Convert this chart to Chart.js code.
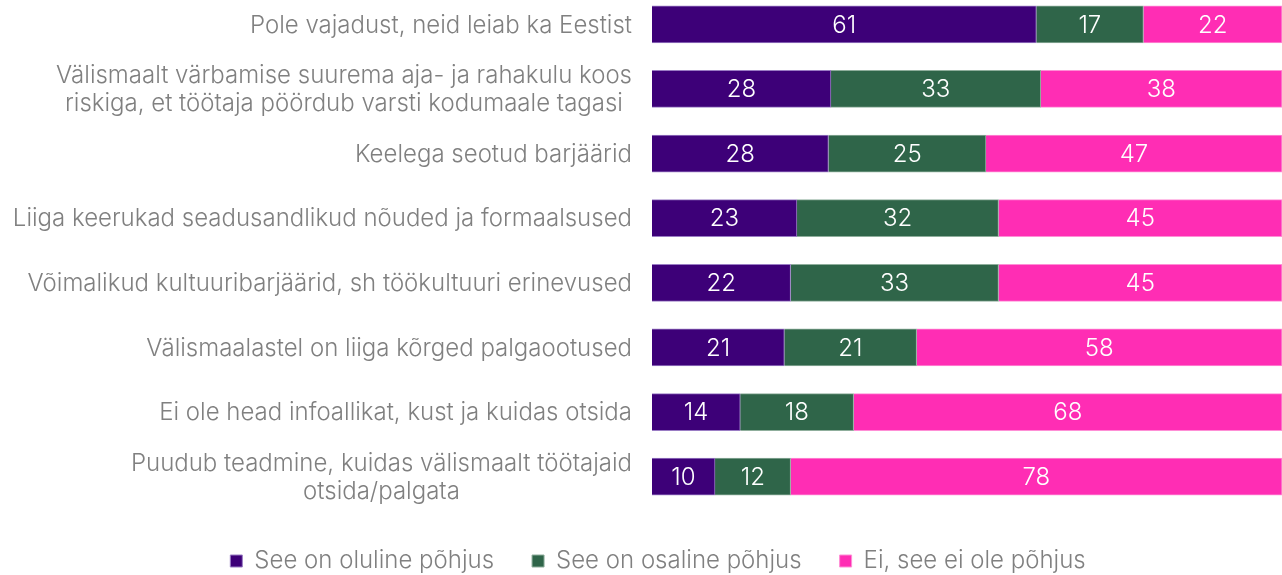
<!DOCTYPE html>
<html>
<head>
<meta charset="utf-8">
<script src="https://cdn.jsdelivr.net/npm/chart.js@4/dist/chart.umd.min.js"></script>
<style>
  html, body { margin: 0; padding: 0; background: #fff; overflow: hidden; }
  #wrap { position: absolute; left: 0; top: -8px; width: 1282px; height: 589px; }
</style>
</head>
<body>
<div id="wrap"><canvas id="chart"></canvas></div>
<script>
var categories = [
    'Pole vajadust, neid leiab ka Eestist',
    ['Välismaalt värbamise suurema aja- ja rahakulu koos', 'riskiga, et töötaja pöördub varsti kodumaale tagasi'],
    'Keelega seotud barjäärid',
    'Liiga keerukad seadusandlikud nõuded ja formaalsused',
    'Võimalikud kultuuribarjäärid, sh töökultuuri erinevused',
    'Välismaalastel on liiga kõrged palgaootused',
    'Ei ole head infoallikat, kust ja kuidas otsida',
    ['Puudub teadmine, kuidas välismaalt töötajaid', 'otsida/palgata']
];
var seriesNames = ['See on oluline põhjus', 'See on osaline põhjus', 'Ei, see ei ole põhjus'];
var important = [61, 28.4, 28, 23, 22, 21, 14, 10];
var partial = [17, 33.3, 25, 32, 33, 21, 18, 12];
var notReason = [22, 38.3, 47, 45, 45, 58, 68, 78];

var FONT = 'Inter';
var GREY = '#808080';

// numbers inside the bars
var barLabels = {
    id: 'barLabels',
    afterDatasetsDraw: function (chart) {
        var ctx = chart.ctx;
        ctx.save();
        ctx.fillStyle = '#ffffff';
        ctx.font = '300 24px ' + FONT;
        ctx.textAlign = 'center';
        ctx.textBaseline = 'middle';
        chart.data.datasets.forEach(function (ds, i) {
            chart.getDatasetMeta(i).data.forEach(function (bar, j) {
                var c = bar.getCenterPoint();
                ctx.fillText(Math.round(ds.data[j]).toString(), c.x, c.y + 1);
            });
        });
        ctx.restore();
    }
};

// category labels: block right aligned, lines centred inside the block
var catLabels = {
    id: 'catLabels',
    afterDraw: function (chart) {
        var ctx = chart.ctx;
        var y = chart.scales.y;
        var right = chart.chartArea.left - 20;
        var lh = 27.5;
        ctx.save();
        ctx.fillStyle = GREY;
        ctx.font = '300 24px ' + FONT;
        ctx.textAlign = 'center';
        ctx.textBaseline = 'middle';
        chart.data.labels.forEach(function (lab, i) {
            var lines = Array.isArray(lab) ? lab : [lab];
            var w = 0;
            lines.forEach(function (l) { w = Math.max(w, ctx.measureText(l).width); });
            var cx = right - w / 2;
            var cy = y.getPixelForTick(i) - (lines.length - 1) * lh / 2;
            lines.forEach(function (l, k) {
                ctx.fillText(l, cx, cy + k * lh + 1);
            });
        });
        ctx.restore();
    }
};

// nudge the legend a little right and down
var legendShift = {
    id: 'legendShift',
    afterLayout: function (chart) {
        var lg = chart.legend;
        lg.left += 17; lg.right += 17;
        lg.top += 2; lg.bottom += 2;
    }
};

var ctx = document.getElementById('chart').getContext('2d');
var chart = new Chart(ctx, {
    type: 'bar',
    data: {
        labels: categories,
        datasets: [{
            label: seriesNames[0],
            data: important,
            backgroundColor: '#3d0078',
            borderColor: '#9a7cc4',
            borderWidth: 1
        }, {
            label: seriesNames[1],
            data: partial,
            backgroundColor: '#2f6549',
            borderColor: '#8fae9c',
            borderWidth: 1
        }, {
            label: seriesNames[2],
            data: notReason,
            backgroundColor: '#ff2db4',
            borderColor: '#ff8fd6',
            borderWidth: 1
        }]
    },
    options: {
        indexAxis: 'y',
        responsive: true,
        maintainAspectRatio: false,
        animation: false,
        barThickness: 37,
        layout: { padding: 0 },
        scales: {
            x: {
                stacked: true,
                min: 0,
                max: 100,
                display: false
            },
            y: {
                stacked: true,
                grid: { display: false, drawTicks: false },
                border: { display: false },
                ticks: { display: false },
                afterFit: function (scale) { scale.width = 652; }
            }
        },
        plugins: {
            legend: {
                display: true,
                position: 'bottom',
                labels: {
                    color: GREY,
                    boxWidth: 12,
                    boxHeight: 12,
                    padding: 38,
                    font: { family: FONT, weight: 300, size: 24 }
                }
            },
            tooltip: { enabled: false }
        }
    },
    plugins: [barLabels, catLabels, legendShift]
});
</script>
</body>
</html>
